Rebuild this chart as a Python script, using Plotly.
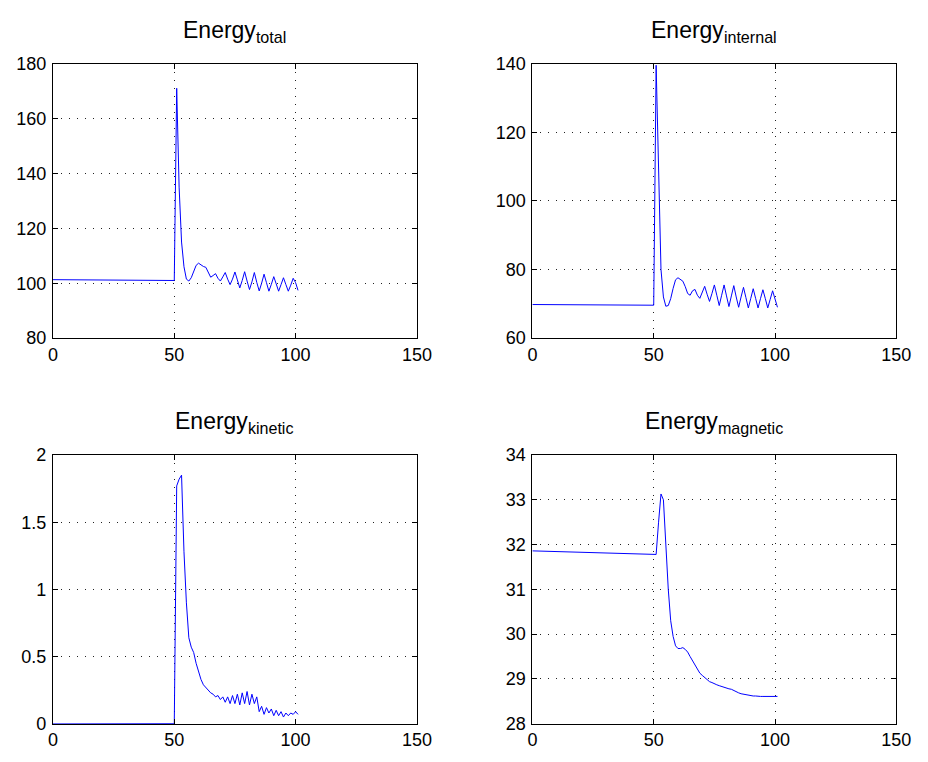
import plotly.graph_objects as go

# ---------------- data ----------------
time = [0, 25, 50, 51, 52, 53, 54, 55, 56, 57, 58, 59, 60, 61, 62, 63, 64, 65, 66, 67,
        68, 69, 70, 71, 72, 73, 74, 75, 76, 77, 78, 79, 80, 81, 82, 83, 84, 85, 86, 87,
        88, 89, 90, 91, 92, 93, 94, 95, 96, 97, 98, 99, 100, 101]

energy_total = [101.3, 101.15, 101.0, 171.0, 135.0, 115.0, 106.0, 101.5, 100.8, 102.0,
                104.5, 106.5, 107.3, 106.6, 106.1, 105.8, 103.8, 102.2, 102.8, 103.5,
                101.8, 100.8, 102.3, 103.9, 101.5, 99.5, 101.5, 104.1, 101.2, 98.3,
                101.0, 104.2, 100.8, 97.7, 100.5, 103.9, 100.3, 97.2, 100.0, 103.3,
                100.2, 97.1, 99.6, 102.4, 99.8, 97.1, 99.5, 102.0, 99.5, 97.1,
                99.3, 101.8, 100.2, 97.4]

energy_internal = [69.8, 69.7, 69.6, 139.5, 106.0, 80.0, 72.0, 69.3, 69.5, 71.5,
                   74.5, 77.0, 77.6, 77.0, 76.6, 75.0, 73.0, 72.5, 73.8, 74.2,
                   72.5, 71.6, 73.5, 75.1, 72.8, 70.7, 73.0, 75.5, 72.5, 69.5,
                   72.5, 75.5, 72.3, 69.2, 72.3, 75.3, 72.0, 69.0, 72.0, 74.8,
                   71.8, 68.8, 71.6, 74.4, 71.6, 68.8, 71.5, 74.1, 71.5, 68.8,
                   71.3, 73.8, 71.4, 69.0]

energy_kinetic = [0.0, 0.0, 0.002, 1.77, 1.82, 1.85, 1.28, 0.90, 0.64, 0.57,
                  0.53, 0.45, 0.38, 0.33, 0.29, 0.27, 0.25, 0.23, 0.22, 0.20,
                  0.21, 0.18, 0.20, 0.16, 0.20, 0.15, 0.21, 0.15, 0.22, 0.14,
                  0.23, 0.15, 0.24, 0.14, 0.22, 0.15, 0.20, 0.09, 0.13, 0.07,
                  0.12, 0.08, 0.11, 0.06, 0.10, 0.06, 0.09, 0.05, 0.08, 0.06,
                  0.08, 0.07, 0.09, 0.07]

energy_magnetic = [31.86, 31.82, 31.78, 31.78, 32.50, 33.13, 33.00, 31.97, 31.00, 30.30,
                   29.95, 29.74, 29.68, 29.68, 29.70, 29.66, 29.60, 29.50, 29.40, 29.30,
                   29.20, 29.13, 29.08, 29.03, 28.98, 28.94, 28.92, 28.89, 28.87, 28.85,
                   28.83, 28.81, 28.80, 28.78, 28.77, 28.74, 28.71, 28.69, 28.67, 28.66,
                   28.65, 28.63, 28.62, 28.62, 28.62, 28.61, 28.61, 28.61, 28.61, 28.61,
                   28.61, 28.61, 28.61, 28.61]

x_ticks = [0, 50, 100, 150]
y_ticks_total = [80, 100, 120, 140, 160, 180]
y_ticks_internal = [60, 80, 100, 120, 140]
y_ticks_kinetic = [0, 0.5, 1, 1.5, 2]
y_tick_labels_kinetic = ["0", "0.5", "1", "1.5", "2"]
y_ticks_magnetic = [28, 29, 30, 31, 32, 33, 34]

titles = [("Energy", "total"), ("Energy", "internal"), ("Energy", "kinetic"), ("Energy", "magnetic")]

# ---------------- layout geometry ----------------
W, H = 928, 762
left_dom = [49 / W, 421 / W]
right_dom = [539 / W, 911 / W]
top_dom = [1 - 337 / H, 1 - 55 / H]
bot_dom = [1 - 733 / H, 1 - 457 / H]

FONT = "Liberation Sans, Arial, Helvetica, sans-serif"
LINE = dict(color="#0000ff", width=1)

fig = go.Figure()

panels = [
    ("x", "y", energy_total, left_dom, top_dom, [80, 180], y_ticks_total, None),
    ("x2", "y2", energy_internal, right_dom, top_dom, [60, 140], y_ticks_internal, None),
    ("x3", "y3", energy_kinetic, left_dom, bot_dom, [0, 2], y_ticks_kinetic, y_tick_labels_kinetic),
    ("x4", "y4", energy_magnetic, right_dom, bot_dom, [28, 34], y_ticks_magnetic, None),
]

axis_common = dict(
    showline=True, linecolor="black", linewidth=1, mirror="allticks",
    ticks="inside", ticklen=5, tickcolor="black", tickwidth=1,
    showgrid=True, gridcolor="#222222", gridwidth=1, griddash="1px,7px",
    zeroline=False, tickfont=dict(family=FONT, size=18, color="black"),
)

for i, (xa, ya, vals, xd, yd, yr, yt, ytl) in enumerate(panels):
    fig.add_trace(go.Scatter(x=time, y=vals, mode="lines", line=LINE,
                             xaxis=xa, yaxis=ya, showlegend=False, cliponaxis=True))
    xkey = "xaxis" if i == 0 else f"xaxis{i+1}"
    ykey = "yaxis" if i == 0 else f"yaxis{i+1}"
    fig.layout[xkey] = dict(axis_common, domain=xd, range=[0, 150], tickvals=x_ticks,
                            anchor=ya, ticklabelstandoff=0)
    ydict = dict(axis_common, domain=yd, range=yr, tickvals=yt, anchor=xa,
                 ticklabelstandoff=2)
    if ytl is not None:
        ydict["ticktext"] = ytl
    fig.layout[ykey] = ydict
    main, sub = titles[i]
    fig.add_annotation(
        text=f"{main}<sub>{sub}</sub>", xref="paper", yref="paper",
        x=(xd[0] + xd[1]) / 2, y=yd[1], xanchor="center", yanchor="bottom",
        yshift=16, showarrow=False, font=dict(family=FONT, size=23, color="black"),
    )

fig.update_layout(
    width=W, height=H, margin=dict(l=0, r=0, t=0, b=0),
    paper_bgcolor="white", plot_bgcolor="white",
)

fig.write_html("out.html")
